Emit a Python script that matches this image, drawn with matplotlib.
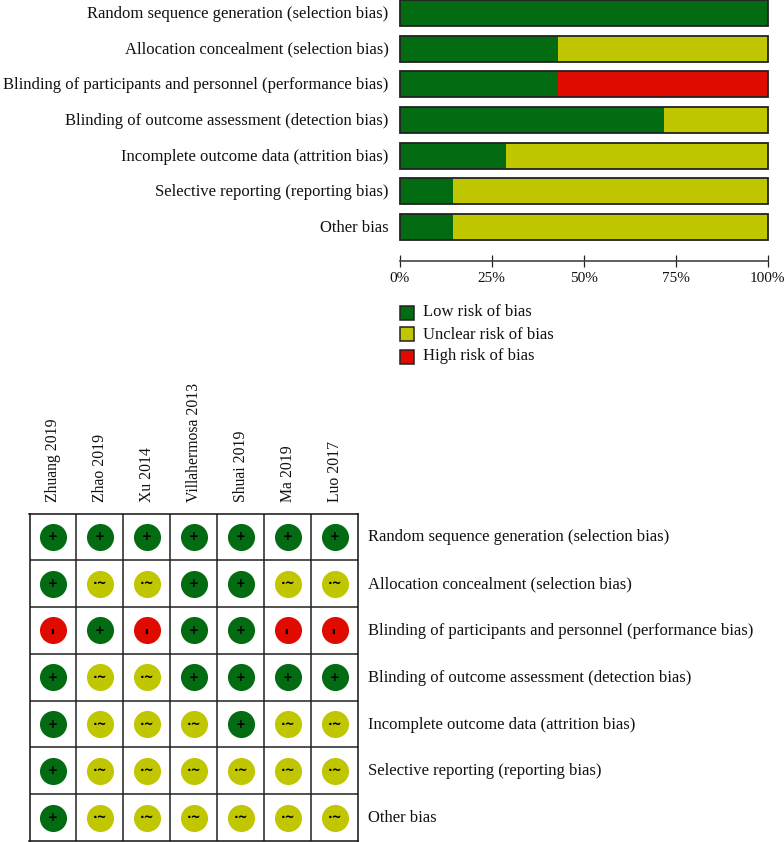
import matplotlib
matplotlib.use("Agg")
import matplotlib.pyplot as plt
from matplotlib.patches import Rectangle
from matplotlib.transforms import ScaledTranslation

plt.rcParams['font.family'] = ['Liberation Serif', 'DejaVu Serif']

W, H = 784, 842
GREEN, YELLOW, RED = '#036c13', '#c0c600', '#e00b00'
EDGE = '#222222'
FS = 12

domains = ["Random sequence generation (selection bias)",
           "Allocation concealment (selection bias)",
           "Blinding of participants and personnel (performance bias)",
           "Blinding of outcome assessment (detection bias)",
           "Incomplete outcome data (attrition bias)",
           "Selective reporting (reporting bias)",
           "Other bias"]
studies = ["Zhuang 2019", "Zhao 2019", "Xu 2014", "Villahermosa 2013",
           "Shuai 2019", "Ma 2019", "Luo 2017"]
low = [100, 43, 43, 72, 29, 14.5, 14.5]
unclear = [0, 57, 0, 28, 71, 85.5, 85.5]
high = [0, 0, 57, 0, 0, 0, 0]
tick_vals = [0, 25, 50, 75, 100]
tick_labels = ["0%", "25%", "50%", "75%", "100%"]
legend_labels = ["Low risk of bias", "Unclear risk of bias", "High risk of bias"]
ratings = ["+++++++",
           "+~~++~~",
           "-+-++--",
           "+~~++++",
           "+~~~+~~",
           "+~~~~~~",
           "+~~~~~~"]


def axes_px(x0, y0, x1, y1):
    return fig.add_axes([x0 / W, 1 - y1 / H, (x1 - x0) / W, (y1 - y0) / H])


def nudge_up(labels, px):
    off = ScaledTranslation(0, px / 100, fig.dpi_scale_trans)
    for t in labels:
        t.set_transform(t.get_transform() + off)


fig = plt.figure(figsize=(W / 100, H / 100), dpi=100, facecolor='white')

# summary bars
ax = axes_px(399.5, 0, 767.5, 260.5)
ax.patch.set_alpha(0)
ypos = list(range(len(domains)))
ax.set_xlim(0, 100)
ax.set_ylim(6.938, -0.367)
colors = [GREEN, YELLOW, RED]
left = [0] * len(domains)
for vals, c in zip([low, unclear, high], colors):
    ax.barh(ypos, vals, left=left, height=26 / 35.65, color=c, linewidth=0, zorder=2)
    left = [a + b for a, b in zip(left, vals)]
ax.barh(ypos, [100] * len(domains), height=26 / 35.65, fill=False, edgecolor=EDGE,
        linewidth=1.3, zorder=3, clip_on=False)
for s in ['top', 'left', 'right']:
    ax.spines[s].set_visible(False)
ax.spines['bottom'].set_color('#444444')
ax.spines['bottom'].set_linewidth(1.2)
ax.set_xticks(tick_vals)
ax.set_xticklabels(tick_labels, fontsize=11, color='#111111')
ax.tick_params(axis='x', direction='inout', length=8.6, width=0.9, color='#222222', pad=4)
ax.set_yticks(ypos)
ax.set_yticklabels(domains, fontsize=FS, color='#111111')
ax.tick_params(axis='y', length=0, pad=8)
nudge_up(ax.get_yticklabels(), 1)

# legend
for y, c, lab in zip([305.5, 327.5, 349.5], colors, legend_labels):
    fig.add_artist(Rectangle((399.5 / W, 1 - (y + 14) / H), 14 / W, 14 / H, transform=fig.transFigure,
                             facecolor=c, edgecolor=EDGE, linewidth=1.1))
    fig.text(423 / W, 1 - (y + 7) / H, lab, fontsize=FS, va='center', ha='left', color='#111111')

# risk matrix
ax2 = axes_px(29.5, 513.5, 358, 841)
ax2.set_xlim(-0.5, 6.5)
ax2.set_ylim(6.5, -0.5)
sym_color = {'+': GREEN, '~': YELLOW, '-': RED}
sym_text = {'+': '+', '~': '·~', '-': '-'}
sym_size = {'+': 8.5, '~': 8.5, '-': 12}
for i, row in enumerate(ratings):
    for j, r in enumerate(row):
        ax2.scatter([j], [i], s=380, color=sym_color[r], linewidths=0, zorder=2)
        ax2.text(j, i, sym_text[r], ha='center', va='center', fontsize=sym_size[r], color='black',
                 family=['DejaVu Sans'], weight='bold', zorder=3, rotation=90 if r == '-' else 0)
ax2.set_xticks([k + 0.5 for k in range(6)], minor=True)
ax2.set_yticks([k + 0.5 for k in range(6)], minor=True)
ax2.grid(which='minor', color='#222222', linewidth=1.1, zorder=1)
ax2.tick_params(which='both', length=0)
for s in ax2.spines.values():
    s.set_linewidth(1.1)
    s.set_color('#111111')
ax2.xaxis.tick_top()
ax2.set_xticks(range(7))
ax2.set_xticklabels(studies, rotation=90, fontsize=11.3, color='#111111', ha='center', va='bottom')
ax2.tick_params(axis='x', which='major', pad=8)
ax2.yaxis.tick_right()
ax2.set_yticks(range(7))
ax2.set_yticklabels(domains, fontsize=FS, color='#111111')
ax2.tick_params(axis='y', which='major', pad=7)
nudge_up(ax2.get_yticklabels(), 1.5)

fig.savefig('out.png', dpi=100)
